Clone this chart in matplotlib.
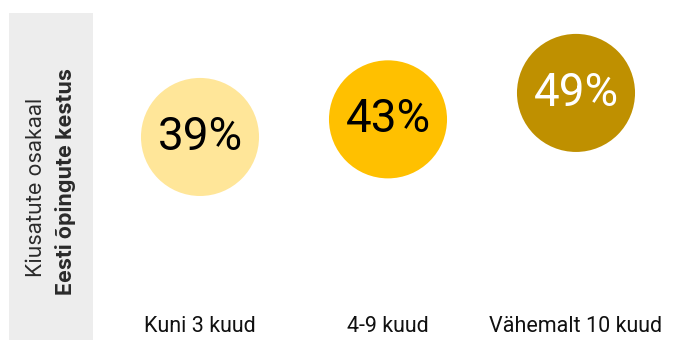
import matplotlib.pyplot as plt
from matplotlib.patches import Rectangle
from matplotlib.transforms import blended_transform_factory

plt.rcParams["font.family"] = ["Roboto", "DejaVu Sans"]

# Andmed
categories = ["Kuni 3 kuud", "4-9 kuud", "Vähemalt 10 kuud"]
shares = [39, 43, 49]
bubble_colors = ["#FFE699", "#FFC000", "#BF9000"]
text_colors = ["#000000", "#000000", "#FFFFFF"]

side_light = "Kiusatute osakaal"
side_bold = "Eesti õpingute kestus"

W, H = 677, 340
fig = plt.figure(figsize=(W / 100, H / 100), dpi=100)
fig.patch.set_facecolor("white")

# Hall külgpaneel vasakul
fig.patches.append(Rectangle((9 / W, 0), 84 / W, 327 / H, transform=fig.transFigure,
                             facecolor="#EDEDED", edgecolor="none", zorder=0))
fig.text(36 / W, 1 - 187 / H, side_light, rotation=90, ha="center", va="center",
         fontsize=15.5, family=["Inter", "DejaVu Sans"], color="#2A2A2A")
fig.text(66 / W, 1 - 182 / H, side_bold, rotation=90, ha="center", va="center",
         fontsize=15.5, family=["Inter", "DejaVu Sans"], fontweight="bold",
         color="#2A2A2A")

# Mullid: x on kategooria, y on osakaal
ax = fig.add_axes([106 / W, 0, 564 / W, 1])
ax.set_xlim(-0.5, 2.5)
ax.set_ylim(-7.1, 70.1)
ax.axis("off")

x = list(range(len(categories)))
ax.scatter(x, shares, s=85 ** 2, c=bubble_colors, edgecolors="none", zorder=2)

for xi, val, tc in zip(x, shares, text_colors):
    ax.text(xi, val, f"{val}%", ha="center", va="center", fontsize=33,
            color=tc, zorder=3)

trans = blended_transform_factory(ax.transData, ax.transAxes)
for xi, cat in zip(x, categories):
    ax.text(xi, 1 - 327 / H, cat, ha="center", va="center", fontsize=15.5,
            color="#111111", transform=trans)

fig.savefig("out.png", dpi=100)
